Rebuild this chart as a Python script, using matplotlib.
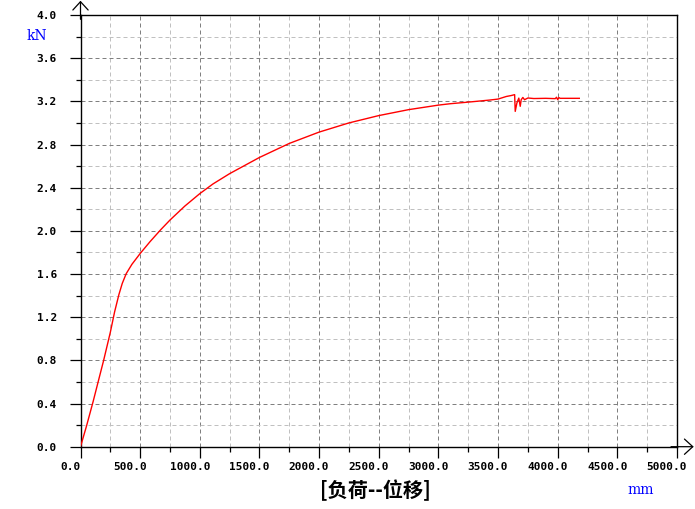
import numpy as np
import matplotlib
matplotlib.use('Agg')
import matplotlib.pyplot as plt
import matplotlib.transforms as mtransforms
from matplotlib.ticker import MultipleLocator, FormatStrFormatter

# load-displacement curve
disp_mm = [0, 50, 106, 150, 194, 250, 286, 322, 350, 383, 431, 500, 583, 672, 750, 875,
           1000, 1111, 1250, 1500, 1750, 2000, 2250, 2500, 2750, 3000, 3100, 3222, 3319, 3431,
           3500, 3569, 3611, 3639, 3644, 3658, 3674, 3686, 3694, 3708, 3722, 3750, 3800,
           3900, 3980, 3990, 4000, 4010, 4020, 4100, 4181]
load_kn = [0.0, 0.19, 0.419, 0.61, 0.80, 1.06, 1.25, 1.41, 1.513, 1.603, 1.69, 1.79, 1.90,
           2.01, 2.10, 2.23, 2.345, 2.435, 2.53, 2.68, 2.81, 2.915, 3.0, 3.068, 3.123, 3.165,
           3.178, 3.19, 3.2, 3.212, 3.221, 3.245, 3.254, 3.262, 3.107, 3.185, 3.23, 3.154,
           3.215, 3.236, 3.215, 3.231, 3.226, 3.228, 3.225, 3.238, 3.215, 3.235, 3.228,
           3.228, 3.228]

x_label = '[负荷--位移]'
x_unit = 'mm'
y_unit = 'kN'

W, H = 695, 509
fig = plt.figure(figsize=(W / 100, H / 100), dpi=100)
ax = fig.add_axes([80.5 / W, 1 - 446.7 / H, (677 - 80.5) / W, (446.7 - 15) / H])

ax.plot(disp_mm, load_kn, color='red', lw=1.0, zorder=3)

ax.set_xlim(0, 5000)
ax.set_ylim(0, 4.0)
ax.xaxis.set_major_locator(MultipleLocator(500))
ax.xaxis.set_minor_locator(MultipleLocator(250))
ax.yaxis.set_major_locator(MultipleLocator(0.4))
ax.yaxis.set_minor_locator(MultipleLocator(0.2))
ax.xaxis.set_major_formatter(FormatStrFormatter('%.1f'))
ax.yaxis.set_major_formatter(FormatStrFormatter('%.1f'))

# grid: dark dashed on major, light dashed on minor
ax.grid(which='major', color='#808080', lw=0.72, linestyle=(0, (4, 3)))
ax.grid(which='minor', color='#c0c0c0', lw=0.72, linestyle=(0, (4, 3)))
ax.set_axisbelow(True)

ax.tick_params(which='major', direction='out', length=8, width=0.9, color='black')
ax.tick_params(which='minor', direction='out', length=3.5, width=0.9, color='black')
ax.tick_params(axis='y', which='major', pad=9)
ax.tick_params(axis='x', which='major', pad=3)

for lab in ax.get_xticklabels() + ax.get_yticklabels():
    lab.set_fontfamily('DejaVu Sans Mono')
    lab.set_fontweight('bold')
    lab.set_fontsize(8)

# x labels sit a little left of their ticks
shift = mtransforms.ScaledTranslation(-10 / 100, 0, fig.dpi_scale_trans)
for lab in ax.get_xticklabels():
    lab.set_transform(lab.get_transform() + shift)

for s in ax.spines.values():
    s.set_linewidth(1.0)
    s.set_color('black')

# arrows on the left and bottom axes
arrow = dict(arrowstyle='->,head_length=0.6,head_width=0.55', lw=0.9, color='black',
             shrinkA=0, shrinkB=0, mutation_scale=10)
ax.annotate('', xy=(0, 1.033), xytext=(0, 0.99), xycoords='axes fraction',
            arrowprops=arrow, annotation_clip=False)
ax.annotate('', xy=(1.028, 0), xytext=(0.99, 0), xycoords='axes fraction',
            arrowprops=arrow, annotation_clip=False)

fig.text(27 / W, 1 - 36 / H, y_unit, color='blue', fontsize=10, family='DejaVu Serif',
         va='center', ha='left')
fig.text(641 / W, 1 - 490 / H, x_unit, color='blue', fontsize=10, family='DejaVu Serif',
         va='center', ha='center')
fig.text(375 / W, 1 - 490 / H, x_label, fontsize=14.5, fontweight='bold',
         family=['Noto Sans CJK SC', 'DejaVu Sans'], va='center', ha='center')

fig.savefig('out.png', dpi=100)
